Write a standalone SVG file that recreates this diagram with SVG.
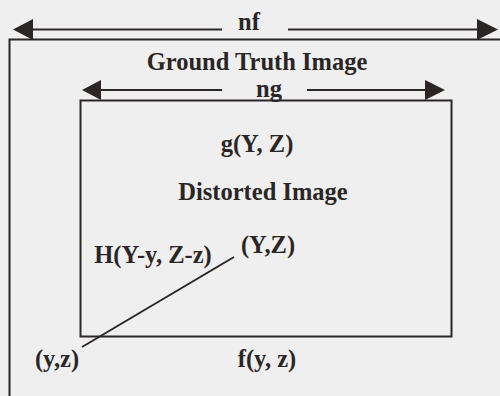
<svg xmlns="http://www.w3.org/2000/svg" width="500" height="396" viewBox="0 0 500 396">
<style>
.t{font-family:"Liberation Serif","Times New Roman",serif;font-weight:bold;font-size:24.5px;fill:#2b2626}
.box{fill:none;stroke:#2b2626;stroke-width:2}
.ln{stroke:#2b2626;stroke-width:2;fill:none}
.ah{fill:#2b2626}
</style>
<rect x="0" y="0" width="500" height="396" fill="#efefef"/>
<g id="ground-truth">
<rect class="box" x="9.5" y="39.5" width="500" height="400"/>
<text class="t" x="257" y="70" text-anchor="middle">Ground Truth Image</text>
<text class="t" x="249" y="30" text-anchor="middle">nf</text>
</g>
<g id="distorted">
<rect class="box" x="80.5" y="100.5" width="371" height="236"/>
<text class="t" x="269" y="97" text-anchor="middle">ng</text>
<text class="t" x="257" y="152" text-anchor="middle">g(Y, Z)</text>
<text class="t" x="263" y="200" text-anchor="middle">Distorted Image</text>
<text class="t" x="153" y="263" text-anchor="middle">H(Y-y, Z-z)</text>
<text class="t" x="268" y="253" text-anchor="middle">(Y,Z)</text>
<text class="t" x="57" y="367" text-anchor="middle">(y,z)</text>
<text class="t" x="267" y="367" text-anchor="middle">f(y, z)</text>
</g>
<g id="connectors">
<line class="ln" x1="30" y1="29.5" x2="222" y2="29.5"/>
<line class="ln" x1="288" y1="29.5" x2="480" y2="29.5"/>
<polygon class="ah" points="13,29.5 33,19 33,40"/>
<polygon class="ah" points="498,29.5 477,19 477,40"/>
<line class="ln" x1="98" y1="90" x2="222" y2="90"/>
<line class="ln" x1="307" y1="90" x2="428" y2="90"/>
<polygon class="ah" points="82,90 101,80 101,100"/>
<polygon class="ah" points="445,90 425,80 425,100"/>
<line class="ln" x1="234" y1="257" x2="82" y2="347"/>
</g>
</svg>
